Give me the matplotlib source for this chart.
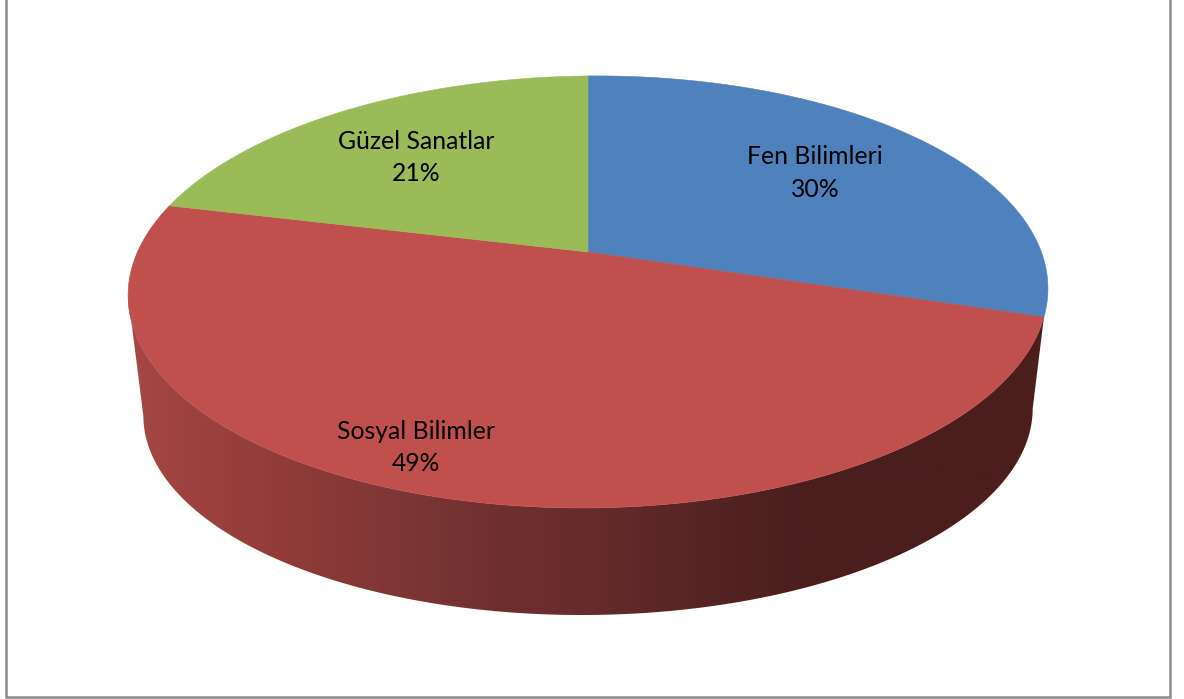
import matplotlib

matplotlib.use("Agg")

import matplotlib.pyplot as plt
import numpy as np
from matplotlib.colors import LinearSegmentedColormap
from matplotlib.patches import Polygon, Rectangle

CATEGORIES = ["Fen Bilimleri", "Sosyal Bilimler", "Güzel Sanatlar"]
SHARES = [30, 49, 21]
COLORS = ["#4f81bd", "#c0504d", "#9bbb59"]
LABEL_POSITIONS = [(815, 173), (416, 447.5), (416, 157.5)]

WALL_STOPS = [
    (0.00, "#a54745"),
    (0.08, "#9c413e"),
    (0.19, "#8e3a38"),
    (0.30, "#7d3636"),
    (0.40, "#702f2f"),
    (0.51, "#662b2b"),
    (0.62, "#572424"),
    (0.73, "#4b1f1f"),
    (1.00, "#4b1d1d"),
]

# Perspective settings for the top face and the bottom edge of the disc.
TILT = 0.185
ROLL = 3.5
TOP = {"cx": 588, "cy": 252, "sx": 452, "sy": 208.6}
BOTTOM = {"cx": 588, "cy": 374.5, "sx": 437, "sy": 196}


def project(theta_deg, face):
    """Map clockwise-from-north angles on the disc to pixel positions."""
    theta = np.radians(theta_deg)
    px = np.sin(theta)
    py = np.cos(theta)
    w = 1 + TILT * py
    return np.column_stack(
        (
            face["cx"] + face["sx"] * px / w,
            face["cy"] - face["sy"] * py / w - ROLL * px,
        )
    )


fig = plt.figure(figsize=(11.84, 6.99), dpi=100)
ax = fig.add_axes([0, 0, 1, 1])
ax.set_xlim(0, 1184)
ax.set_ylim(699, 0)
ax.axis("off")

ax.add_patch(
    Rectangle((6, -10), 1164, 707, fill=False, edgecolor="#8c8c8c", linewidth=1.8)
)

edges = np.cumsum([0] + SHARES) / sum(SHARES) * 360

# Side wall: only the front of the red slice is visible.
left_extreme = 270 - np.degrees(np.arcsin(TILT))
right_extreme = 90 + np.degrees(np.arcsin(TILT))
top_edge = project(np.linspace(edges[1], left_extreme, 240), TOP)
bottom_edge = project(np.linspace(left_extreme, right_extreme, 240), BOTTOM)
wall = Polygon(np.vstack((top_edge, bottom_edge)), closed=True, facecolor="none",
               edgecolor="none")
ax.add_patch(wall)

wall_cmap = LinearSegmentedColormap.from_list("wall", WALL_STOPS)
x_min, x_max = 128, 1048
gradient = ax.imshow(
    np.linspace(0, 1, 512).reshape(1, -1),
    extent=(x_min, x_max, 640, 280),
    cmap=wall_cmap,
    aspect="auto",
    interpolation="bilinear",
)
gradient.set_clip_path(wall)
ax.set_xlim(0, 1184)
ax.set_ylim(699, 0)

# Top face slices.
for start, stop, color in zip(edges[:-1], edges[1:], COLORS):
    rim = project(np.linspace(start, stop, 300), TOP)
    centre = np.array([[TOP["cx"], TOP["cy"]]])
    ax.add_patch(
        Polygon(np.vstack((centre, rim)), closed=True, facecolor=color,
                edgecolor=color, linewidth=0.4)
    )

for name, share, (x, y) in zip(CATEGORIES, SHARES, LABEL_POSITIONS):
    ax.text(x, y, f"{name}\n{share}%", ha="center", va="center", family="Lato",
            fontsize=17.8, color="black", linespacing=1.5)

fig.savefig("out.png", dpi=100, facecolor="white")
